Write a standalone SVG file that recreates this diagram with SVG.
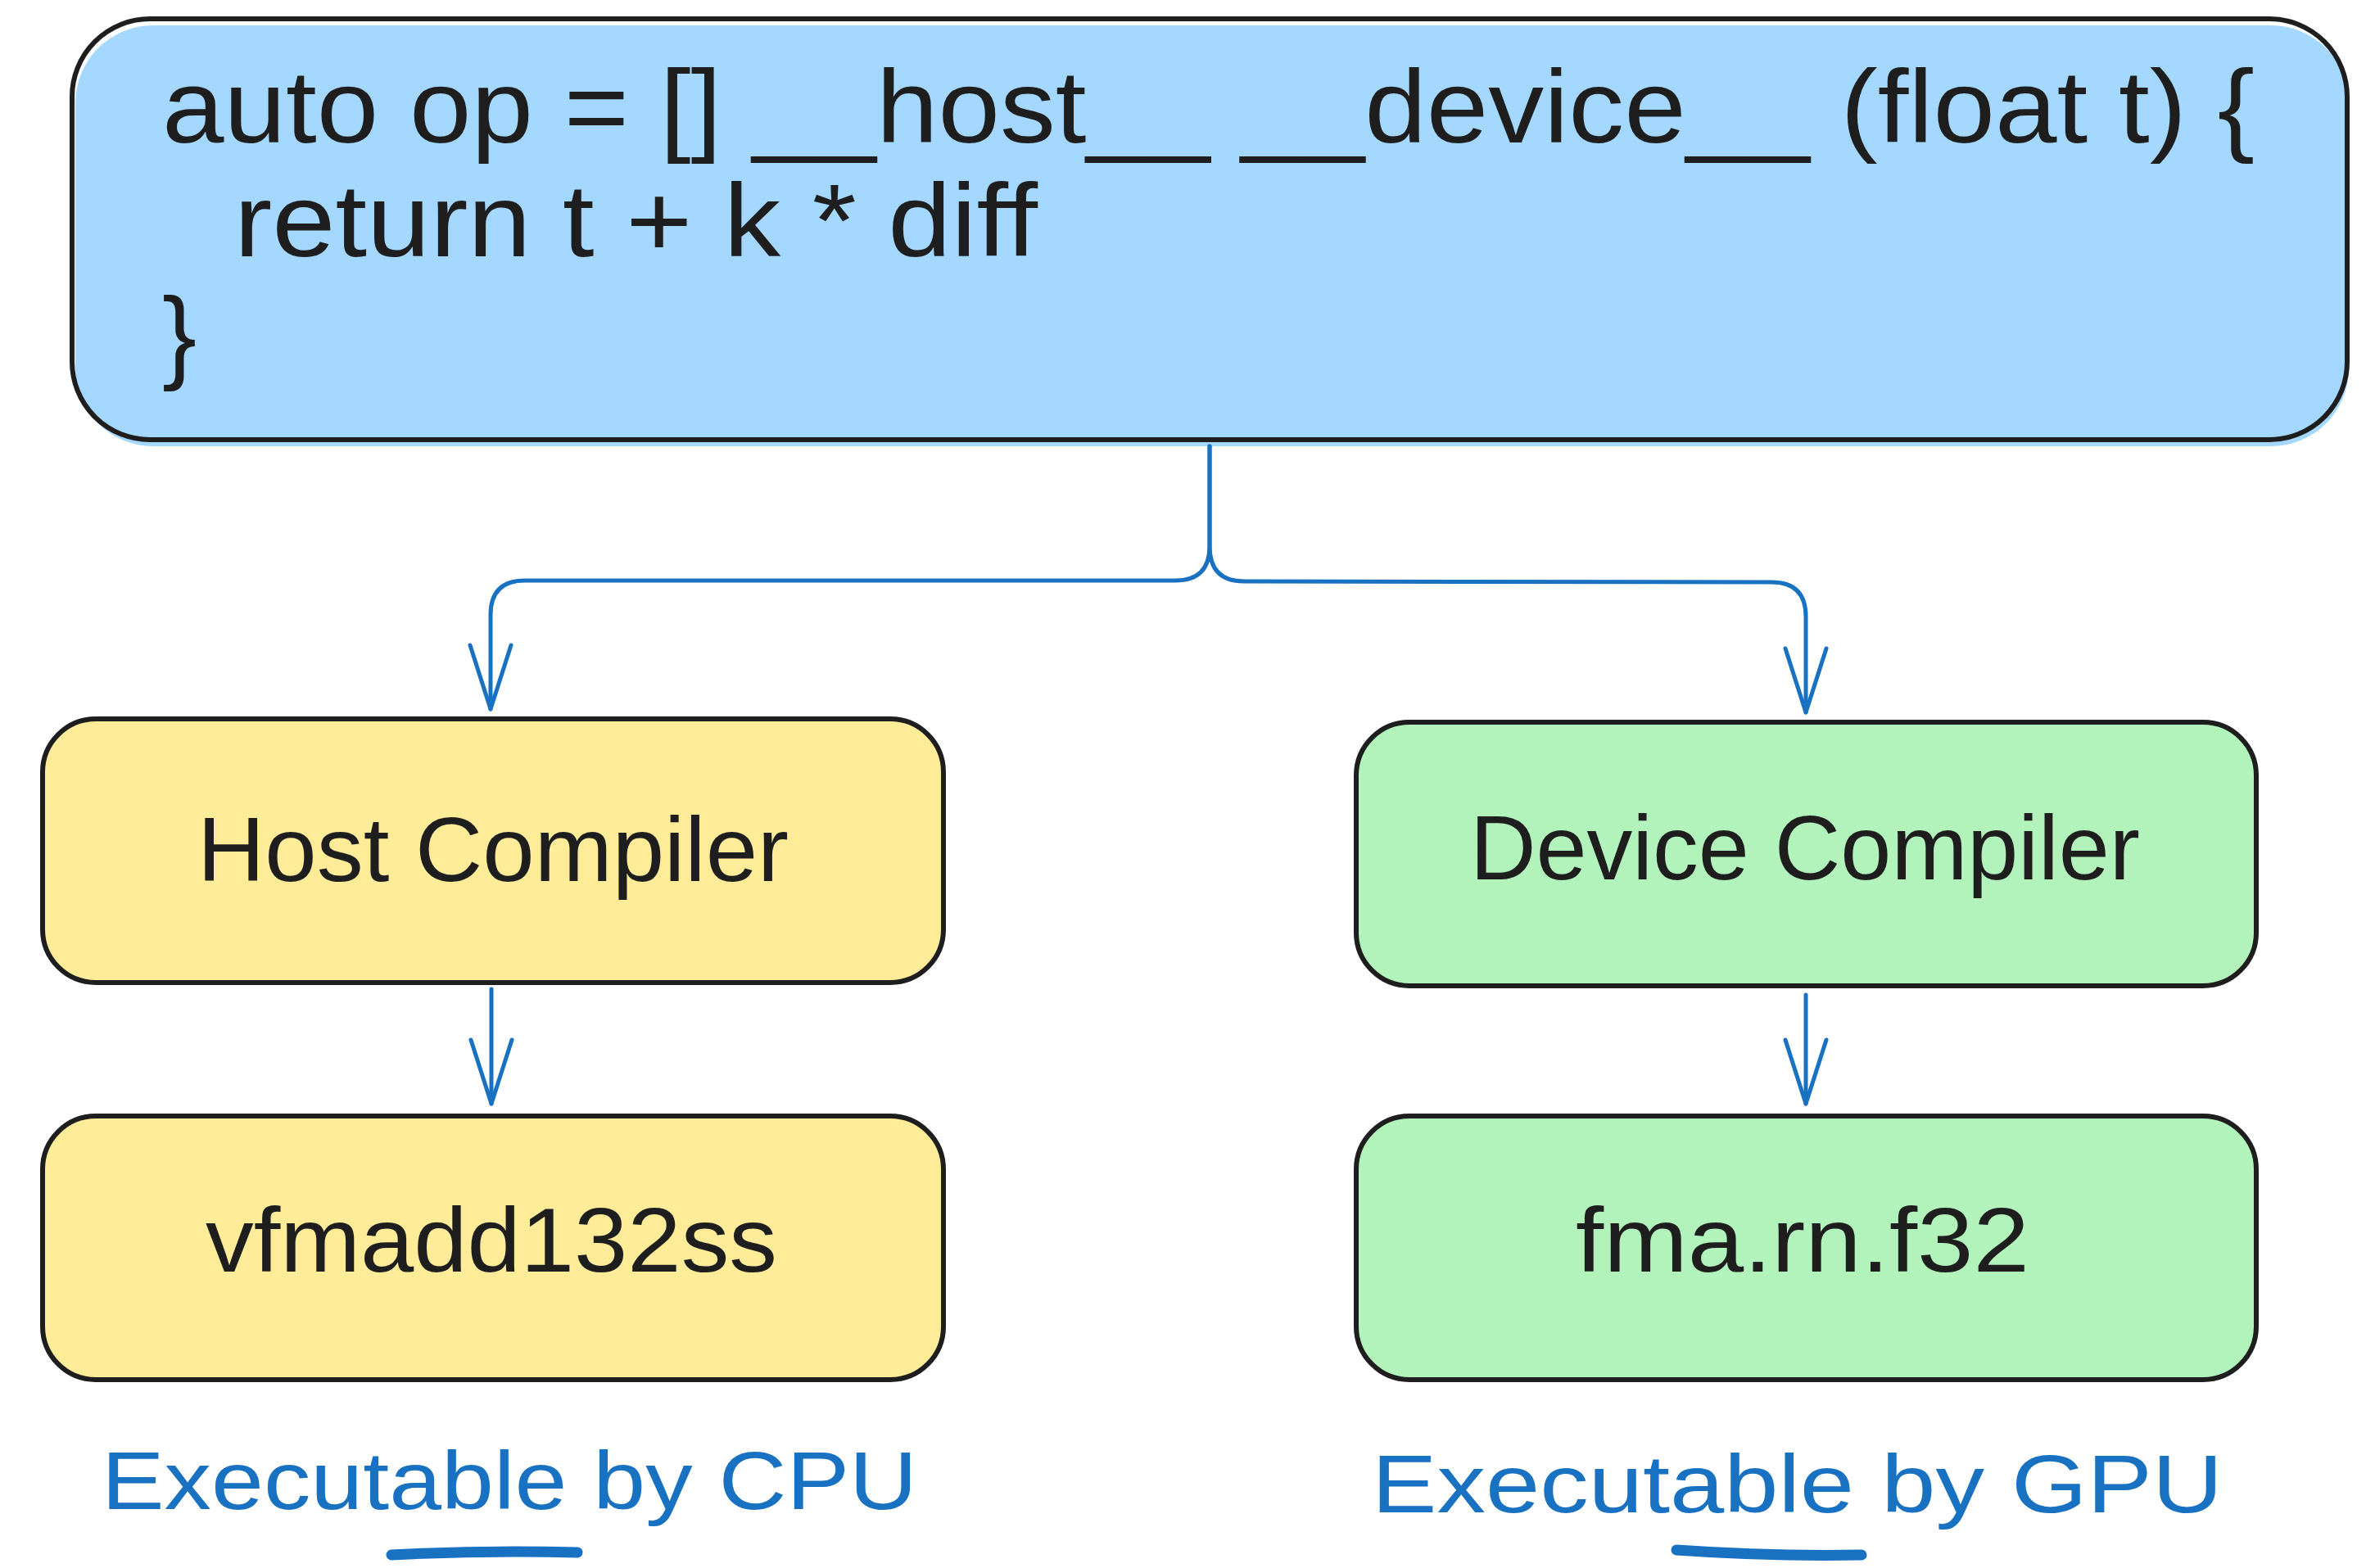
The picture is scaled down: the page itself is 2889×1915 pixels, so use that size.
<svg xmlns="http://www.w3.org/2000/svg" width="2889" height="1915" viewBox="0 0 2889 1915">
<style>
.bg{fill:#ffffff}
.box{stroke:#1e1e1e;stroke-width:6;stroke-linejoin:round}
.blue{fill:#a5d8ff}
.yellow{fill:#ffec99}
.green{fill:#b2f2bb}
.code{font-family:"Liberation Sans",Arial,sans-serif;font-size:126px;fill:#1e1e1e}
.lbl{font-family:"Liberation Sans",Arial,sans-serif;font-size:112px;fill:#1e1e1e}
.note{font-family:"Liberation Sans",Arial,sans-serif;font-size:100px;fill:#1971c2}
.conn{fill:none;stroke:#1971c2;stroke-width:5;stroke-linecap:round;stroke-linejoin:round}
.ul{fill:none;stroke:#1971c2;stroke-width:13;stroke-linecap:round}
</style>
<defs>
<marker id="arrow" markerUnits="userSpaceOnUse" markerWidth="100" markerHeight="70" viewBox="-90 -35 100 70" refX="0" refY="0" orient="auto">
<path d="M -78 -25 L 0 0 L -78 25" fill="none" stroke="#1971c2" stroke-width="5" stroke-linecap="round" stroke-linejoin="round"/>
</marker>
</defs>
<rect class="bg" x="0" y="0" width="2889" height="1915"/>

<g id="node-code">
<rect class="blue" x="92" y="31" width="2776" height="514" rx="95" ry="95"/>
<rect class="box" x="88" y="23" width="2778" height="514" rx="95" ry="95" fill="none"/>
<text class="code" x="198" y="174" textLength="2555" lengthAdjust="spacingAndGlyphs">auto op = [] __host__ __device__ (float t) {</text>
<text class="code" x="286" y="313" textLength="981" lengthAdjust="spacingAndGlyphs">return t + k * diff</text>
<text class="code" x="198" y="452">}</text>
</g>

<g id="node-host-compiler">
<rect class="box yellow" x="52" y="878" width="1100" height="322" rx="65" ry="65"/>
<text class="lbl" x="241" y="1076" textLength="722" lengthAdjust="spacingAndGlyphs">Host Compiler</text>
</g>

<g id="node-device-compiler">
<rect class="box green" x="1656" y="882" width="1099" height="322" rx="65" ry="65"/>
<text class="lbl" x="1795" y="1074" textLength="818" lengthAdjust="spacingAndGlyphs">Device Compiler</text>
</g>

<g id="node-vfmadd">
<rect class="box yellow" x="52" y="1363" width="1100" height="322" rx="65" ry="65"/>
<text class="lbl" x="251" y="1553" textLength="698" lengthAdjust="spacingAndGlyphs">vfmadd132ss</text>
</g>

<g id="node-fma">
<rect class="box green" x="1656" y="1363" width="1099" height="322" rx="65" ry="65"/>
<text class="lbl" x="1924" y="1553" textLength="554" lengthAdjust="spacingAndGlyphs">fma.rn.f32</text>
</g>

<g id="label-cpu">
<text class="note" x="124" y="1843" textLength="996" lengthAdjust="spacingAndGlyphs">Executable by CPU</text>
<path class="ul" d="M 478 1899 Q 590 1893 705 1896"/>
</g>

<g id="label-gpu">
<text class="note" x="1675" y="1847" textLength="1039" lengthAdjust="spacingAndGlyphs">Executable by GPU</text>
<path class="ul" d="M 2047 1893 Q 2160 1901 2273 1899"/>
</g>

<g id="connectors">
<path class="conn" marker-end="url(#arrow)" d="M 1477 545 L 1477 667 Q 1477 709 1435 709 L 641 709 Q 599 709 599 751 L 599 866"/>
<path class="conn" marker-end="url(#arrow)" d="M 1477 545 L 1477 667 Q 1477 710 1519 710 L 2163 711 Q 2205 711 2205 753 L 2205 870"/>
<path class="conn" marker-end="url(#arrow)" d="M 600 1208 L 600 1348"/>
<path class="conn" marker-end="url(#arrow)" d="M 2205 1215 L 2205 1348"/>
</g>
</svg>
